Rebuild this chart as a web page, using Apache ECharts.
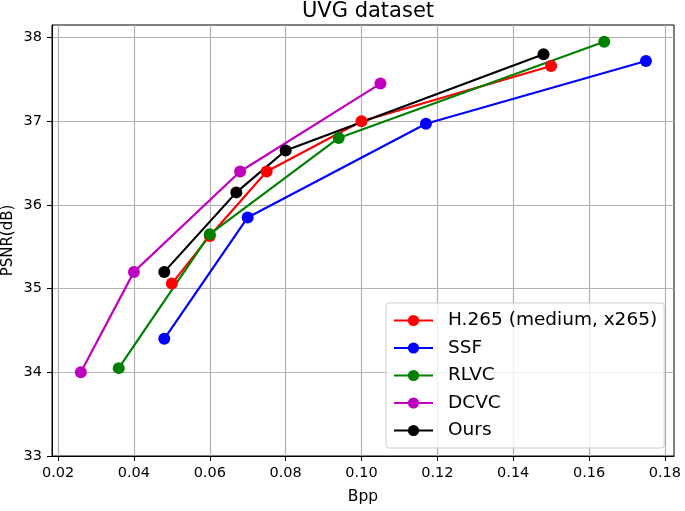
<!DOCTYPE html>
<html>
<head>
<meta charset="utf-8">
<script src="https://cdn.jsdelivr.net/npm/echarts@6/dist/echarts.min.js"></script>
<style>
	html, body { margin: 0; padding: 0; background: #fff; }
	#chart { width: 685px; height: 511px; }
</style>
</head>
<body>
<div id="chart"></div>
<script>
// data: [bpp, psnr]
var h265 = [[0.050, 35.06], [0.060, 35.63], [0.075, 36.40], [0.100, 37.00], [0.150, 37.66]];
var ssf = [[0.048, 34.40], [0.070, 35.85], [0.117, 36.97], [0.175, 37.72]];
var rlvc = [[0.036, 34.05], [0.060, 35.65], [0.094, 36.80], [0.164, 37.95]];
var dcvc = [[0.026, 34.00], [0.040, 35.20], [0.068, 36.40], [0.105, 37.45]];
var ours = [[0.048, 35.20], [0.067, 36.15], [0.080, 36.65], [0.148, 37.80]];

var seriesNames = ['H.265 (medium, x265)', 'SSF', 'RLVC', 'DCVC', 'Ours'];
var seriesColors = ['#ff0000', '#0000ff', '#008000', '#bf00bf', '#000000'];
var seriesData = [h265, ssf, rlvc, dcvc, ours];

var xTicks = [0.02, 0.04, 0.06, 0.08, 0.10, 0.12, 0.14, 0.16, 0.18];
var yTicks = [33, 34, 35, 36, 37, 38];

var font = 'DejaVu Sans';

var chart = echarts.init(document.getElementById('chart'), null, { renderer: 'canvas' });

var series = seriesData.map(function(d, i) {
	return {
		name: seriesNames[i],
		type: 'line',
		data: d,
		symbol: 'circle',
		symbolSize: 12,
		color: seriesColors[i],
		lineStyle: { width: 2.2, color: seriesColors[i] },
		itemStyle: { color: seriesColors[i] },
		emphasis: { disabled: true },
		animation: false
	};
});

var option = {
	animation: false,
	title: {
		text: 'UVG dataset',
		left: 363,
		textAlign: 'center',
		top: -4,
		textStyle: { fontFamily: font, fontSize: 21, fontWeight: 'normal', color: '#000' }
	},
	grid: {
		left: 52,
		right: 11,
		top: 25,
		bottom: 55,
		show: true,
		borderColor: '#000',
		borderWidth: 1,
		containLabel: false,
		outerBoundsMode: 'none'
	},
	legend: {
		orient: 'vertical',
		left: 386,
		top: 303,
		padding: [8, 7, 8, 7],
		itemWidth: 39,
		itemHeight: 14,
		itemGap: 8.5,
		backgroundColor: 'rgba(255,255,255,0.8)',
		borderColor: '#cccccc',
		borderWidth: 1,
		borderRadius: 3,
		textStyle: { fontFamily: font, fontSize: 18.5, color: '#000', padding: [0, 0, 0, 10] },
		data: seriesNames
	},
	xAxis: {
		type: 'value',
		min: 0.0184,
		max: 0.1824,
		name: 'Bpp',
		nameLocation: 'middle',
		nameGap: 33,
		nameMoveOverlap: false,
		nameTextStyle: { fontFamily: font, fontSize: 15.5, color: '#000' },
		axisLine: { show: true, lineStyle: { color: '#000', width: 1 } },
		axisTick: { show: true, length: 5, lineStyle: { color: '#000' }, customValues: xTicks },
		axisLabel: {
			customValues: xTicks,
			margin: 10,
			fontFamily: font,
			fontSize: 14.5,
			color: '#000',
			formatter: function(v) { return v.toFixed(2); }
		},
		splitLine: { show: true, lineStyle: { color: '#b0b0b0', width: 1.2 } }
	},
	yAxis: {
		type: 'value',
		min: 33,
		max: 38.15,
		name: 'PSNR(dB)',
		nameLocation: 'middle',
		nameGap: 36,
		nameMoveOverlap: false,
		nameTextStyle: { fontFamily: font, fontSize: 15, color: '#000' },
		axisLine: { show: true, lineStyle: { color: '#000', width: 1 } },
		axisTick: { show: true, length: 5, lineStyle: { color: '#000' }, customValues: yTicks },
		axisLabel: {
			customValues: yTicks,
			margin: 10,
			fontFamily: font,
			fontSize: 14.5,
			color: '#000'
		},
		splitLine: { show: true, lineStyle: { color: '#b0b0b0', width: 1.2 } }
	},
	series: series
};

chart.setOption(option);
window.onresize = chart.resize;
</script>
</body>
</html>
